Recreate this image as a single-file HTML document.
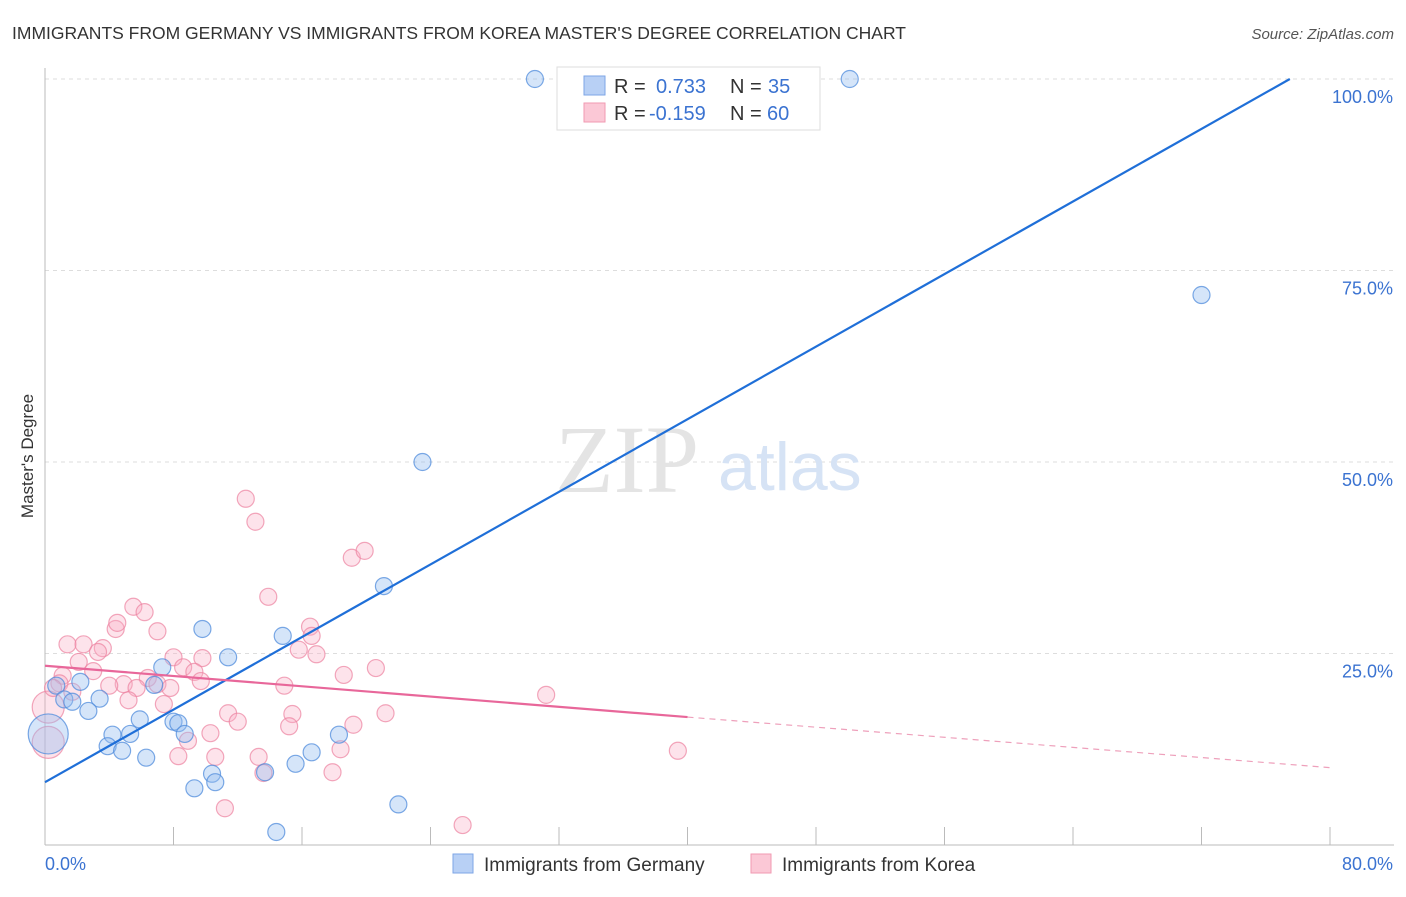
<!DOCTYPE html>
<html><head><meta charset="utf-8"><style>
body{margin:0;background:#fff;font-family:"Liberation Sans",sans-serif;}
svg text{font-family:"Liberation Sans",sans-serif;}
</style></head><body>
<svg id="chart" width="1406" height="892" xmlns="http://www.w3.org/2000/svg">
<text x="12" y="39" font-size="17.5" fill="#333">IMMIGRANTS FROM GERMANY VS IMMIGRANTS FROM KOREA MASTER'S DEGREE CORRELATION CHART</text>
<text x="1394" y="39" font-size="15" fill="#555" font-style="italic" text-anchor="end">Source: ZipAtlas.com</text>
<text transform="translate(33,456) rotate(-90)" font-size="17" fill="#333" text-anchor="middle">Master's Degree</text>
<g id="grid"></g>
<g id="axes"></g>
<text x="555" y="492" font-size="96" fill="#e4e4e4" font-family="Liberation Serif" style="font-family:'Liberation Serif',serif">ZIP</text>
<text x="718" y="490" font-size="68" fill="#d6e3f5">atlas</text>
<g id="pts"></g>
<g id="lines"></g>
<g>
<rect x="557" y="67" width="263" height="63" fill="#fff" stroke="#ddd"/>
<rect x="584" y="76" width="21" height="19" fill="#b8d0f5" stroke="#7ea6e6"/>
<rect x="584" y="103" width="21" height="19" fill="#fbc8d6" stroke="#f09ab2"/>
<text x="614" y="93" font-size="20" fill="#333">R =</text>
<text x="656" y="93" font-size="20" fill="#3b73d1">0.733</text>
<text x="730" y="93" font-size="20" fill="#333">N =</text>
<text x="768" y="93" font-size="20" fill="#3b73d1">35</text>
<text x="614" y="120" font-size="20" fill="#333">R =</text>
<text x="649" y="120" font-size="20" fill="#3b73d1">-0.159</text>
<text x="730" y="120" font-size="20" fill="#333">N =</text>
<text x="767" y="120" font-size="20" fill="#3b73d1">60</text>
</g>
<g>
<rect x="453" y="854" width="20" height="19" fill="#b8d0f5" stroke="#7ea6e6"/>
<text x="484" y="871" font-size="19" fill="#333">Immigrants from Germany</text>
<rect x="751" y="854" width="20" height="19" fill="#fbc8d6" stroke="#f09ab2"/>
<text x="782" y="871" font-size="19" fill="#333">Immigrants from Korea</text>
</g>
</svg>
<script>
const xTickLabels=["0.0%","80.0%"];
const yTicks=[25,50,75,100];
const yTickLabels=["25.0%","50.0%","75.0%","100.0%"];
const germanyX=[30.5,50.1,72.0,23.5,21.1,9.8,14.8,11.4,7.3,0.7,2.2,6.8,1.2,1.7,3.4,2.7,5.9,8.0,8.3,8.7,4.2,5.3,3.9,4.8,6.3,16.6,18.3,15.6,10.4,13.7,10.6,9.3,22.0,14.4,0.2];
const germanyY=[100,100,71.8,50.0,33.8,28.2,27.3,24.5,23.2,20.8,21.3,20.9,19.0,18.7,19.1,17.5,16.4,16.1,15.9,14.5,14.4,14.5,12.9,12.3,11.4,12.1,14.4,10.6,9.3,9.5,8.2,7.4,5.3,1.7,14.5];
const koreaX=[12.5,13.1,19.1,19.9,13.9,5.5,6.2,7.0,4.4,4.5,1.4,2.4,3.6,3.3,16.5,16.6,15.8,16.9,8.0,9.8,8.6,2.1,3.0,9.3,6.4,20.6,18.6,1.1,0.9,4.9,4.0,5.7,7.0,7.8,9.7,14.9,1.7,5.2,7.4,31.2,0.2,11.4,12.0,15.4,15.2,21.2,19.2,10.3,8.9,18.4,13.3,10.6,8.3,39.4,13.6,17.9,11.2,26.0,0.2,0.5];
const koreaY=[45.2,42.2,37.5,38.4,32.4,31.1,30.4,27.9,28.2,29.0,26.2,26.2,25.7,25.2,28.5,27.3,25.5,24.9,24.5,24.4,23.2,23.9,22.7,22.6,21.8,23.1,22.2,22.1,21.1,21.0,20.8,20.5,21.0,20.5,21.4,20.8,20.0,18.9,18.4,19.6,18.0,17.2,16.1,17.1,15.5,17.2,15.7,14.6,13.6,12.5,11.5,11.5,11.6,12.3,9.4,9.5,4.8,2.6,13.4,20.5];
const germanyTrend=[8.2,100,77.5];
const koreaTrend=[23.4,16.7,40,10.1,80];
const NS="http://www.w3.org/2000/svg";
const X0=45,X1=1330,Y0=845,Y100=79;
function sx(v){return X0+(X1-X0)*v/80;}
function sy(v){return Y0-(Y0-Y100)*v/100;}
function mk(tag,attrs,parent){const e=document.createElementNS(NS,tag);for(const k in attrs)e.setAttribute(k,attrs[k]);parent.appendChild(e);return e;}
const grid=document.getElementById('grid'),axes=document.getElementById('axes'),pts=document.getElementById('pts'),lines=document.getElementById('lines');
yTicks.forEach((t,i)=>{
 const l=mk('line',{x1:X0,x2:1394,y1:sy(t),y2:sy(t),stroke:'#ddd','stroke-dasharray':'4,4'},grid);
 
 
 const tx=mk('text',{x:1393,y:sy(t)+24,'font-size':18,fill:'#3b73d1','text-anchor':'end'},axes);
 tx.textContent=yTickLabels[i];
 
 
});
mk('line',{x1:X0,x2:X0,y1:68,y2:Y0,stroke:'#bbb'},axes);
mk('line',{x1:X0,x2:1394,y1:Y0,y2:Y0,stroke:'#bbb'},axes);
for(let i=1;i<=10;i++){mk('line',{x1:sx(i*8),x2:sx(i*8),y1:Y0-18,y2:Y0,stroke:'#bbb'},axes);}
const xl0=mk('text',{x:45,y:870,'font-size':18,fill:'#3b73d1'},axes);xl0.textContent=xTickLabels[0];


const xl1=mk('text',{x:1393,y:870,'font-size':18,fill:'#3b73d1','text-anchor':'end'},axes);xl1.textContent=xTickLabels[1];


koreaX.forEach((x,i)=>{
 const big=(i===40||i===58);
 const c=mk('circle',{cx:sx(x),cy:sy(koreaY[i]),r:big?16:8.5,fill:'rgba(248,175,198,0.35)',stroke:'rgba(236,130,160,0.7)','stroke-width':1.2},pts);
 
 
});
germanyX.forEach((x,i)=>{
 const big=(i===34);
 const c=mk('circle',{cx:sx(x),cy:sy(germanyY[i]),r:big?20:8.5,fill:'rgba(150,190,240,0.4)',stroke:'rgba(80,140,220,0.75)','stroke-width':1.2},pts);
 
 
});
const gl=mk('line',{x1:sx(0),y1:sy(germanyTrend[0]),x2:sx(germanyTrend[2]),y2:sy(germanyTrend[1]),stroke:'#1f6fd8','stroke-width':2.2},lines);


const kl=mk('line',{x1:sx(0),y1:sy(koreaTrend[0]),x2:sx(koreaTrend[2]),y2:sy(koreaTrend[1]),stroke:'#e8679a','stroke-width':2.2},lines);


const kd=mk('line',{x1:sx(koreaTrend[2]),y1:sy(koreaTrend[1]),x2:sx(koreaTrend[4]),y2:sy(koreaTrend[3]),stroke:'#eea0bb','stroke-width':1.2,'stroke-dasharray':'6,5'},lines);


</script>
</body></html>
